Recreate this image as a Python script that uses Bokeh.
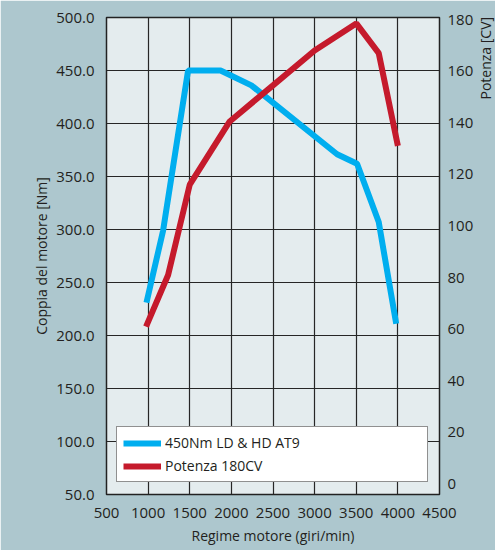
from bokeh.plotting import figure
from bokeh.models import (Range1d, LinearAxis, FixedTicker, PrintfTickFormatter,
                          Legend, LegendItem, Label)
from bokeh.embed import file_html
from bokeh.resources import INLINE

# ---- data ----
rpm_ticks = [500, 1000, 1500, 2000, 2500, 3000, 3500, 4000, 4500]
torque_ticks = [50, 100, 150, 200, 250, 300, 350, 400, 450, 500]
power_ticks = [0, 20, 40, 60, 80, 100, 120, 140, 160, 180]

torque_rpm = [980, 1180, 1480, 1870, 2240, 3270, 3510, 3770, 3980]
torque_nm = [231, 299, 450, 450, 436, 371, 362, 307, 211]

power_rpm = [975, 1240, 1500, 1980, 2500, 3000, 3500, 3770, 4000]
power_cv = [61, 81, 116, 140.5, 154.5, 168, 178.5, 167, 131]

torque_label = "450Nm LD & HD AT9"
power_label = "Potenza 180CV"
power_title = "Potenza [CV]"

FONT = "Open Sans"
TXT = "#231f20"
BLUE = "#00aeef"
RED = "#c51a2c"

p = figure(width=495, height=550,
           x_range=Range1d(500, 4500), y_range=Range1d(50, 500),
           output_backend="svg", toolbar_location=None,
           min_border_left=106, min_border_right=54,
           min_border_top=17, min_border_bottom=56)
p.extra_y_ranges = {"power": Range1d(-4.1, 180.8)}

p.background_fill_color = "#e4ecee"
p.border_fill_color = "#adc7ce"
p.outline_line_color = "#222222"
p.outline_line_width = 1.5

# axes
p.xaxis.ticker = FixedTicker(ticks=rpm_ticks)
p.yaxis.ticker = FixedTicker(ticks=torque_ticks)
p.yaxis.formatter = PrintfTickFormatter(format="%.1f")

right = LinearAxis(y_range_name="power", ticker=FixedTicker(ticks=power_ticks))
p.add_layout(right, "right")

for ax in [p.xaxis[0], p.yaxis[0], right]:
    ax.axis_line_color = None
    ax.major_tick_line_color = None
    ax.minor_tick_line_color = None
    ax.major_label_text_font = FONT
    ax.major_label_text_font_size = "15px"
    ax.major_label_text_color = TXT
    ax.axis_label_text_font = FONT
    ax.axis_label_text_font_size = "14px"
    ax.axis_label_text_font_style = "normal"
    ax.axis_label_text_color = TXT

p.xaxis.axis_label = "Regime motore (giri/min)"
p.xaxis.major_label_standoff = 7
p.xaxis.axis_label_standoff = 5
p.yaxis[0].axis_label = "Coppia del motore [Nm]"
p.yaxis[0].major_label_standoff = 6
p.yaxis[0].axis_label_standoff = 2
right.major_label_standoff = 2

# grid
p.xgrid.ticker = FixedTicker(ticks=rpm_ticks)
p.ygrid.ticker = FixedTicker(ticks=torque_ticks)
for g in [p.xgrid[0], p.ygrid[0]]:
    g.grid_line_color = "#262626"
    g.grid_line_width = 1.2
    g.grid_line_alpha = 1

# lines
r_t = p.line(torque_rpm, torque_nm, line_color=BLUE, line_width=6)
r_p = p.line(power_rpm, power_cv, line_color=RED, line_width=6, y_range_name="power")

legend = Legend(items=[LegendItem(label=torque_label, renderers=[r_t]),
                       LegendItem(label=power_label, renderers=[r_p])],
                location=(10, 12), orientation="vertical",
                border_line_color="#222222", border_line_width=1.5,
                background_fill_color="white", background_fill_alpha=1,
                padding=6, spacing=4, margin=0,
                glyph_width=38, glyph_height=18, label_height=18,
                label_width=256, label_standoff=4,
                label_text_font=FONT, label_text_font_size="14px",
                label_text_color=TXT)
p.add_layout(legend, "center")

p.add_layout(Label(x=9, y=395, x_units="screen", y_units="screen",
                   text=power_title, angle=90, angle_units="deg",
                   text_align="left", text_baseline="middle",
                   text_font=FONT, text_font_size="14px", text_color=TXT),
             "right")

open("out.html", "w").write(file_html(p, INLINE))
